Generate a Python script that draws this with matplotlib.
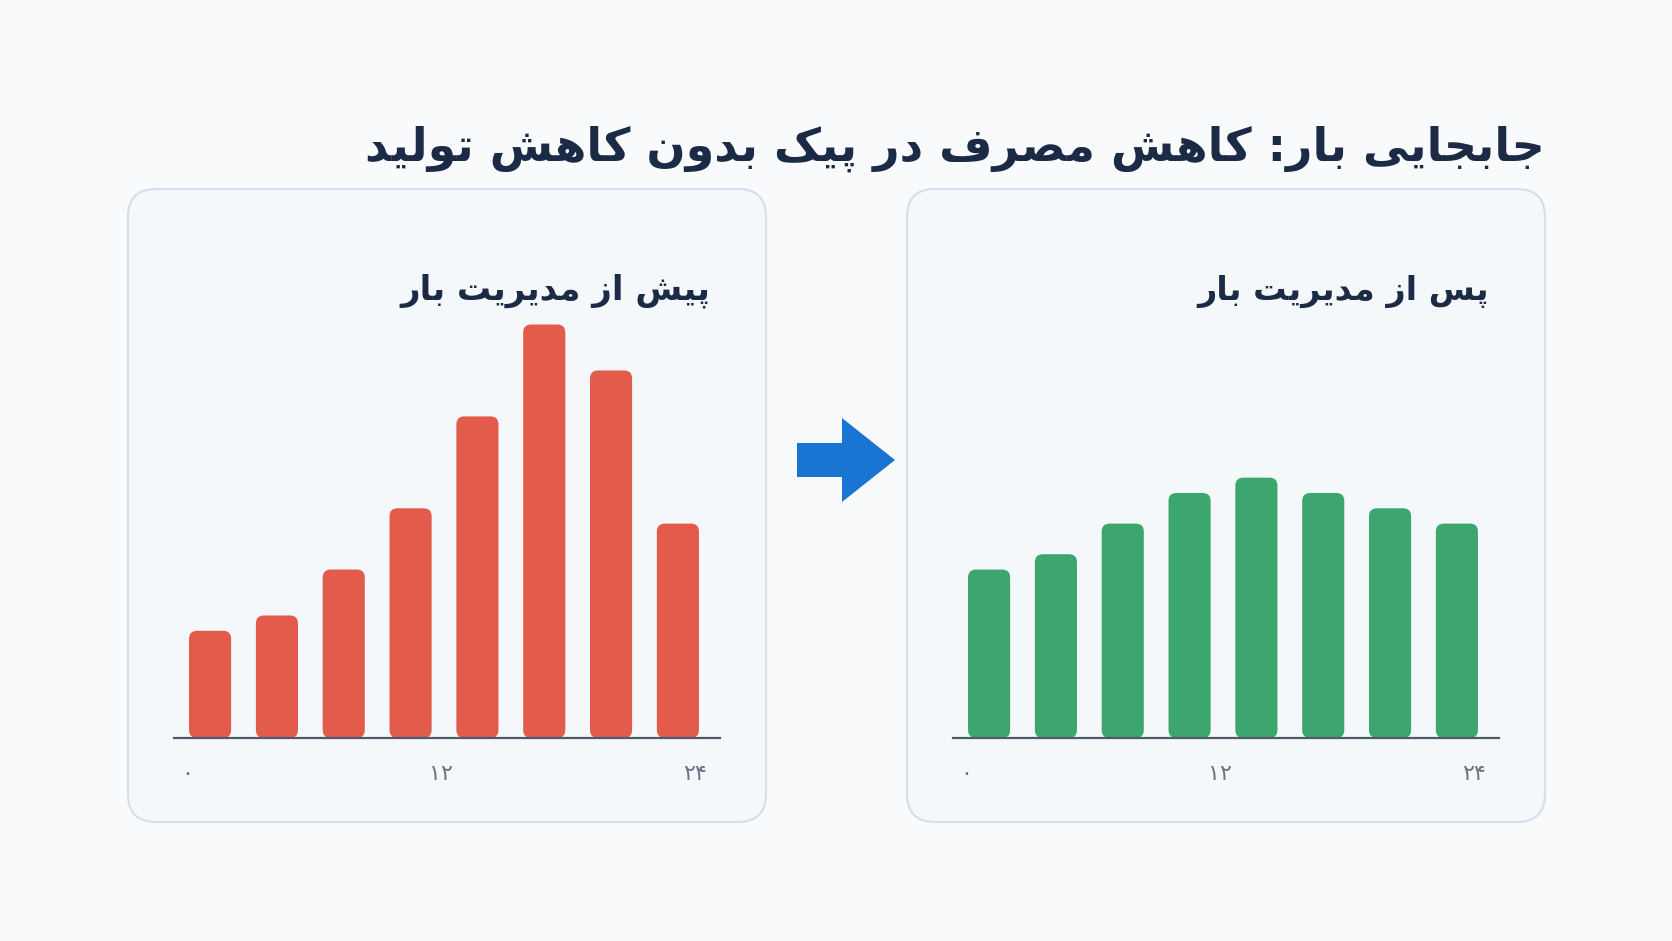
import matplotlib
matplotlib.use("Agg")
import matplotlib.pyplot as plt
from matplotlib.patches import FancyBboxPatch, FancyArrow

# chart data
TITLE = "جابجایی بار: کاهش مصرف در پیک بدون کاهش تولید"
LEFT_TITLE = "پیش از مدیریت بار"
RIGHT_TITLE = "پس از مدیریت بار"
BEFORE = [7, 8, 11, 15, 21, 27, 24, 14]
AFTER = [11, 12, 14, 16, 17, 16, 15, 14]
TICK_HOURS = [0, 12, 24]
TICK_LABELS = ["۰", "۱۲", "۲۴"]

# matplotlib has no arabic shaping: pick presentation forms by hand
# (isolated, final, initial, medial)
FORMS = {
    '\u0627': (0xFE8D, 0xFE8E),
    '\u0628': (0xFE8F, 0xFE90, 0xFE91, 0xFE92),
    '\u067E': (0xFB56, 0xFB57, 0xFB58, 0xFB59),
    '\u062A': (0xFE95, 0xFE96, 0xFE97, 0xFE98),
    '\u062C': (0xFE9D, 0xFE9E, 0xFE9F, 0xFEA0),
    '\u062F': (0xFEA9, 0xFEAA),
    '\u0631': (0xFEAD, 0xFEAE),
    '\u0632': (0xFEAF, 0xFEB0),
    '\u0633': (0xFEB1, 0xFEB2, 0xFEB3, 0xFEB4),
    '\u0634': (0xFEB5, 0xFEB6, 0xFEB7, 0xFEB8),
    '\u0635': (0xFEB9, 0xFEBA, 0xFEBB, 0xFEBC),
    '\u0641': (0xFED1, 0xFED2, 0xFED3, 0xFED4),
    '\u06A9': (0xFB8E, 0xFB8F, 0xFB90, 0xFB91),
    '\u0643': (0xFED9, 0xFEDA, 0xFEDB, 0xFEDC),
    '\u0644': (0xFEDD, 0xFEDE, 0xFEDF, 0xFEE0),
    '\u0645': (0xFEE1, 0xFEE2, 0xFEE3, 0xFEE4),
    '\u0646': (0xFEE5, 0xFEE6, 0xFEE7, 0xFEE8),
    '\u0647': (0xFEE9, 0xFEEA, 0xFEEB, 0xFEEC),
    '\u0648': (0xFEED, 0xFEEE),
    '\u06CC': (0xFBFC, 0xFBFD, 0xFBFE, 0xFBFF),
    '\u064A': (0xFEF1, 0xFEF2, 0xFEF3, 0xFEF4),
}

def shape(s):
    out = []
    for i, ch in enumerate(s):
        f = FORMS.get(ch)
        if f is None:
            out.append(ch)
            continue
        prev = s[i-1] if i > 0 else ''
        nxt = s[i+1] if i+1 < len(s) else ''
        jp = prev in FORMS and len(FORMS[prev]) == 4
        jn = len(f) == 4 and nxt in FORMS
        if jp and jn:
            c = f[3]
        elif jp:
            c = f[1]
        elif jn:
            c = f[2]
        else:
            c = f[0]
        out.append(chr(c))
    return ''.join(out[::-1])

W, H = 1672, 941
NAVY = '#1C2B45'
RED = '#E25B4B'
GREEN = '#3DA56E'

fig = plt.figure(figsize=(W/100, H/100), dpi=100)
fig.patch.set_facecolor('#F9FAFB')

# pixel overlay for panels, titles, arrow
bg = fig.add_axes([0, 0, 1, 1])
bg.set_xlim(0, W)
bg.set_ylim(H, 0)
bg.axis('off')

for x0 in (128, 907):
	bg.add_patch(FancyBboxPatch((x0, 189), 638, 633, boxstyle="round,pad=0,rounding_size=28",
		facecolor='#F4F8FB', edgecolor='#D4E0EB', linewidth=1.6))

bg.text(1545, 149, shape(TITLE), ha='right', va='center', fontsize=33, weight='bold', color=NAVY)
bg.text(710, 291, shape(LEFT_TITLE), ha='right', va='center', fontsize=24.5, weight='bold', color=NAVY)
bg.text(1489, 291, shape(RIGHT_TITLE), ha='right', va='center', fontsize=24, weight='bold', color=NAVY)

bg.add_patch(FancyArrow(797, 460, 98, 0, width=34, head_width=84, head_length=53,
	length_includes_head=True, color='#1A74D2', linewidth=0))

# hour -> bar position
X0, X24 = -0.34, 7.25
tick_pos = [X0 + h*(X24 - X0)/24 for h in TICK_HOURS]

def panel(left_px, values, color):
	ax = fig.add_axes([left_px/W, 1 - 738/H, 546/W, 438/H])
	ax.set_facecolor('none')
	ax.set_xlim(-0.54, 7.63)
	ax.set_ylim(0, 28.6)
	bars = ax.bar(range(len(values)), values, width=0.63, color=color)
	# swap plain rectangles for slightly rounded ones
	xpx = 546/(7.63 + 0.54)
	ypx = 438/28.6
	r = 8
	for b in bars:
		b.set_visible(False)
		ax.add_patch(FancyBboxPatch((b.get_x(), 0), b.get_width(), b.get_height(),
			boxstyle="round,pad=0,rounding_size=%f" % (r/xpx), mutation_aspect=xpx/ypx,
			facecolor=color, edgecolor='none', zorder=2))
	for s in ('top', 'left', 'right'):
		ax.spines[s].set_visible(False)
	ax.spines['bottom'].set_color('#4F5B6B')
	ax.spines['bottom'].set_linewidth(1.6)
	ax.spines['bottom'].set_zorder(3)
	ax.set_yticks([])
	ax.set_xticks(tick_pos, TICK_LABELS)
	ax.tick_params(axis='x', length=0, pad=19, labelsize=16, labelcolor='#6B7482')
	return ax

panel(174, BEFORE, RED)
panel(953, AFTER, GREEN)

fig.savefig('out.png', dpi=100, facecolor=fig.get_facecolor())
